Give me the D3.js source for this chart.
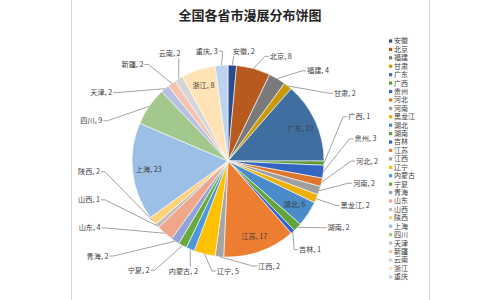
<!DOCTYPE html>
<html>
<head>
<meta charset="utf-8">
<script src="https://cdn.jsdelivr.net/npm/d3@7/dist/d3.min.js"></script>
<style>
  body { margin: 0; background: #fff; }
  text { font-family: "Noto Sans CJK SC", "Noto Sans", sans-serif; }
  .legend text { font-family: "Liberation Sans", "Noto Sans CJK SC", sans-serif; }
</style>
</head>
<body>
<div id="chart"></div>
<script>
var chartTitle = "全国各省市漫展分布饼图";
var provinces = ["安徽", "北京", "福建", "甘肃", "广东", "广西", "贵州", "河北", "河南", "黑龙江",
  "湖北", "湖南", "吉林", "江苏", "江西", "辽宁", "内蒙古", "宁夏", "青海", "山东",
  "山西", "陕西", "上海", "四川", "天津", "新疆", "云南", "浙江", "重庆"];
var counts = [2, 8, 4, 2, 19, 1, 3, 2, 2, 2,
  6, 2, 1, 17, 2, 5, 2, 2, 2, 4,
  1, 2, 23, 9, 2, 2, 2, 8, 3];
var sliceColors = ["#2b4c8c", "#b65a20", "#7a7a7a", "#c99a06", "#3f6fa0", "#5e9a35", "#3465c0", "#e0762c", "#9f9f9f", "#edb000",
  "#4a8bc9", "#62a33c", "#2f63d0", "#ed7d31", "#a5a5a5", "#ffc000", "#4f97db", "#6aaa3d", "#8ea3d8", "#f0a68a",
  "#bebebe", "#ffd27a", "#9bbfe5", "#a2c88e", "#b5c0e2", "#f5c3b0", "#d6d6d6", "#ffe2b5", "#bdd3ef"];
// labels that Excel put inside the slice
var insideLabels = ["广东", "湖北", "江苏", "上海", "浙江"];

var width = 500, height = 300;
var cx = 228, cy = 161, radius = 96;
var rx = 139, ry = 110;   // path the label centres sit on

var data = provinces.map(function(p, i) { return {name: p, value: counts[i], color: sliceColors[i]}; });

var svg = d3.select("#chart")
  .append("svg")
    .attr("width", width)
    .attr("height", height);

// chart area frame
svg.append("rect")
  .attr("x", 71.5).attr("y", -1)
  .attr("width", 358).attr("height", height + 2)
  .attr("fill", "#fff")
  .attr("stroke", "#d9d9d9");

svg.append("text")
  .attr("x", 250).attr("y", 20)
  .attr("text-anchor", "middle")
  .style("font-size", "13px")
  .style("font-weight", "bold")
  .style("fill", "#262626")
  .text(chartTitle);

var pie = d3.pie().sort(null).value(function(d) { return d.value; });
var arcs = pie(data);
var arc = d3.arc().innerRadius(0).outerRadius(radius);

var g = svg.append("g").attr("transform", "translate(" + cx + "," + cy + ")");

g.selectAll("path.slice")
  .data(arcs)
  .enter().append("path")
    .attr("class", "slice")
    .attr("d", arc)
    .attr("fill", function(d) { return d.data.color; })
    .attr("stroke", "#fff")
    .attr("stroke-width", 0.6);

// inside labels
var inner = d3.arc().innerRadius(radius * 0.83).outerRadius(radius * 0.83);
g.selectAll("text.inlabel")
  .data(arcs.filter(function(d) { return insideLabels.indexOf(d.data.name) >= 0; }))
  .enter().append("text")
    .attr("class", "inlabel")
    .attr("transform", function(d) { return "translate(" + inner.centroid(d) + ")"; })
    .attr("text-anchor", "middle")
    .attr("dy", "0.35em")
    .style("font-size", "7.2px")
    .style("fill", "#404040")
    .text(function(d) { return d.data.name + ", " + d.data.value; });

// outside labels with leader lines
var outside = arcs.filter(function(d) { return insideLabels.indexOf(d.data.name) < 0; });

// rounded path: round on the right, square corner in the crowded lower left
function pathPoint(a) {
  var s = Math.sin(a), c = Math.cos(a);
  var n;
  if (s > 0) n = c > 0 ? 2.3 : 2;
  else n = c < 0 ? 7 : 3;
  var t = Math.pow(Math.pow(Math.abs(s) / rx, n) + Math.pow(Math.abs(c) / ry, n), -1 / n);
  return [t * s, -t * c];
}

var outLabels = g.selectAll("text.outlabel")
  .data(outside)
  .enter().append("text")
    .attr("class", "outlabel")
    .attr("text-anchor", "middle")
    .attr("dy", "0.35em")
    .style("font-size", "7.2px")
    .style("fill", "#404040")
    .text(function(d) { return d.data.name + ", " + d.data.value; });

outLabels.each(function(d) {
  d.w = this.getComputedTextLength();
  d.h = 9;
  d.mid = (d.startAngle + d.endAngle) / 2;
  d.la = d.mid;
});

function box(d) {
  var p = pathPoint(d.la);
  return {px: p[0], py: p[1], x0: p[0] - d.w / 2, x1: p[0] + d.w / 2, y0: p[1] - d.h / 2, y1: p[1] + d.h / 2};
}

// push overlapping neighbours apart along the label path
var step = 0.002;
for (var it = 0; it < 6000; it++) {
  var moved = false;
  for (var i = 0; i < outside.length; i++) {
    var a = outside[i], b = outside[(i + 1) % outside.length];
    var wrap = (i === outside.length - 1) ? 2 * Math.PI : 0;
    var ba = box(a), bb = box(b);
    var padX = (ba.py > 0 && bb.py > 0) ? 19 : 15;
    var padY = (ba.px < 0 && bb.px < 0) ? 19 : 13;
    var overlap = ba.x0 < bb.x1 + padX && bb.x0 < ba.x1 + padX && ba.y0 < bb.y1 + padY && bb.y0 < ba.y1 + padY;
    if (overlap || b.la + wrap < a.la) {
      a.la -= step;
      b.la += step;
      moved = true;
    }
  }
  if (!moved) break;
}

outLabels.each(function(d) {
  var b = box(d);
  d3.select(this).attr("x", b.px).attr("y", b.py);
  var sx = Math.sin(d.mid) * radius, sy = -Math.cos(d.mid) * radius;
  var pts;
  if (b.x0 - 2 > sx) {
    pts = [[sx, sy], [b.x0 - 5, b.py], [b.x0 - 1, b.py]];
  } else if (b.x1 + 2 < sx) {
    pts = [[sx, sy], [b.x1 + 5, b.py], [b.x1 + 1, b.py]];
  } else {
    var ex = Math.max(b.x0 + 1, Math.min(b.x1 - 1, sx));
    var ey = b.py < sy ? b.y1 : b.y0;
    pts = [[sx, sy], [ex, ey]];
  }
  g.insert("path", "text.outlabel")
    .attr("d", d3.line()(pts))
    .attr("fill", "none")
    .attr("stroke", "#8c8c8c")
    .attr("stroke-width", 0.8);
});

// legend
var legend = svg.append("g").attr("class", "legend");
var rows = legend.selectAll("g")
  .data(data)
  .enter().append("g")
    .attr("transform", function(d, i) { return "translate(389," + (41 + i * 8.42) + ")"; });
rows.append("rect")
  .attr("x", 0).attr("y", -1.6)
  .attr("width", 3.2).attr("height", 3.2)
  .attr("fill", function(d) { return d.color; });
rows.append("text")
  .attr("x", 5).attr("dy", "0.35em")
  .style("font-size", "7px")
  .style("fill", "#404040")
  .text(function(d) { return d.name; });
</script>
</body>
</html>
